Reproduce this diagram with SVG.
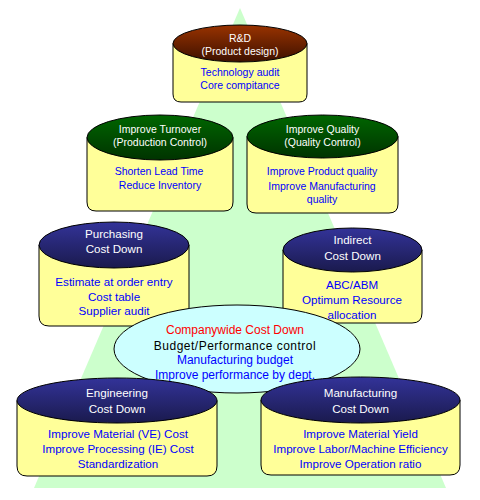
<svg xmlns="http://www.w3.org/2000/svg" width="480" height="500" viewBox="0 0 480 500">
<defs>
<linearGradient id="gBrown" x1="0" y1="0" x2="0" y2="1"><stop offset="0" stop-color="#993300"/><stop offset="1" stop-color="#3d1000"/></linearGradient>
<linearGradient id="gGreen" x1="0" y1="0" x2="0" y2="1"><stop offset="0" stop-color="#006600"/><stop offset="1" stop-color="#003300"/></linearGradient>
<linearGradient id="gNavy" x1="0" y1="0" x2="0" y2="1"><stop offset="0" stop-color="#333399"/><stop offset="1" stop-color="#1a1a4d"/></linearGradient>
</defs>
<style>
.body{fill:#ffff99;stroke:#000;stroke-width:1}
.top{stroke:#000;stroke-width:1}
text{font-family:"Liberation Sans",Arial,sans-serif;text-anchor:middle}
.h{fill:#fff}
.b{fill:#0000ff}
.s{font-size:10.5px}
.m{font-size:11.6px}
.c{font-size:12px}
</style>
<rect width="480" height="500" fill="#fff"/>
<polygon points="240,8 34,488 446,488" fill="#ccffcc"/>

<g id="rd">
<path class="body" d="M173,43.5 V94 Q173,102 181,102 H299 Q307,102 307,94 V43.5 Z"/>
<ellipse class="top" cx="240" cy="43.5" rx="67" ry="18.5" fill="url(#gBrown)"/>
<text class="h s" x="240" y="42">R&amp;D</text>
<text class="h s" x="240" y="55">(Product design)</text>
<text class="b s" x="240" y="76">Technology audit</text>
<text class="b s" x="240" y="89">Core compitance</text>
</g>

<g id="turnover">
<path class="body" d="M87,137.5 V202 Q87,211 96,211 H224 Q233,211 233,202 V137.5 Z"/>
<ellipse class="top" cx="160" cy="137.5" rx="73" ry="22.5" fill="url(#gGreen)"/>
<text class="h s" x="160" y="133">Improve Turnover</text>
<text class="h s" x="160" y="145.5">(Production Control)</text>
<text class="b s" x="159" y="175">Shorten Lead Time</text>
<text class="b s" x="160" y="189">Reduce Inventory</text>
</g>

<g id="quality">
<path class="body" d="M247,136.5 V204 Q247,213 256,213 H389 Q398,213 398,204 V136.5 Z"/>
<ellipse class="top" cx="322.5" cy="136.5" rx="75.5" ry="21.5" fill="url(#gGreen)"/>
<text class="h s" x="322.5" y="133">Improve Quality</text>
<text class="h s" x="322.5" y="145.5">(Quality Control)</text>
<text class="b s" x="322" y="175">Improve Product quality</text>
<text class="b s" x="322" y="189.5">Improve Manufacturing</text>
<text class="b s" x="322" y="203">quality</text>
</g>

<g id="purchasing">
<path class="body" d="M39,245 V316 Q39,326 49,326 H179 Q189,326 189,316 V245 Z"/>
<ellipse class="top" cx="114" cy="245" rx="75" ry="23" fill="url(#gNavy)"/>
<text class="h m" x="114" y="238">Purchasing</text>
<text class="h m" x="114" y="253">Cost Down</text>
<text class="b m" x="114" y="286">Estimate at order entry</text>
<text class="b m" x="114" y="300.5">Cost table</text>
<text class="b m" x="114" y="315">Supplier audit</text>
</g>

<g id="indirect">
<path class="body" d="M283,250 V313 Q283,323 293,323 H412 Q422,323 422,313 V250 Z"/>
<ellipse class="top" cx="352.5" cy="250" rx="69.5" ry="22" fill="url(#gNavy)"/>
<text class="h m" x="352.5" y="243.5">Indirect</text>
<text class="h m" x="352.5" y="259.5">Cost Down</text>
<text class="b m" x="352" y="289">ABC/ABM</text>
<text class="b m" x="352" y="304">Optimum Resource</text>
<text class="b m" x="352" y="318.5">allocation</text>
</g>

<g id="center">
<ellipse cx="237" cy="349" rx="123" ry="44" fill="#ccffff" stroke="#000" stroke-width="1"/>
<text class="c" x="235" y="334" fill="#ff0000">Companywide Cost Down</text>
<text class="c" x="235" y="349.5" fill="#000" letter-spacing="0.5">Budget/Performance control</text>
<text class="c b" x="235" y="364">Manufacturing budget</text>
<text class="c b" x="235" y="379">Improve performance by dept.</text>
</g>

<g id="engineering">
<path class="body" d="M17,400.5 V466 Q17,476 27,476 H207 Q217,476 217,466 V400.5 Z"/>
<ellipse class="top" cx="117" cy="400.5" rx="100" ry="22.5" fill="url(#gNavy)"/>
<text class="h m" x="117" y="397">Engineering</text>
<text class="h m" x="117" y="412.5">Cost Down</text>
<text class="b m" x="118" y="438">Improve Material (VE) Cost</text>
<text class="b m" x="118" y="453">Improve Processing (IE) Cost</text>
<text class="b m" x="118" y="468">Standardization</text>
</g>

<g id="manufacturing">
<path class="body" d="M261,400 V465 Q261,475 271,475 H450 Q460,475 460,465 V400 Z"/>
<ellipse class="top" cx="360.5" cy="400" rx="99.5" ry="23" fill="url(#gNavy)"/>
<text class="h m" x="360.5" y="397">Manufacturing</text>
<text class="h m" x="360.5" y="413">Cost Down</text>
<text class="b m" x="360.5" y="438">Improve Material Yield</text>
<text class="b m" x="360.5" y="453">Improve Labor/Machine Efficiency</text>
<text class="b m" x="360.5" y="468">Improve Operation ratio</text>
</g>

<g id="connectors"></g>
</svg>
